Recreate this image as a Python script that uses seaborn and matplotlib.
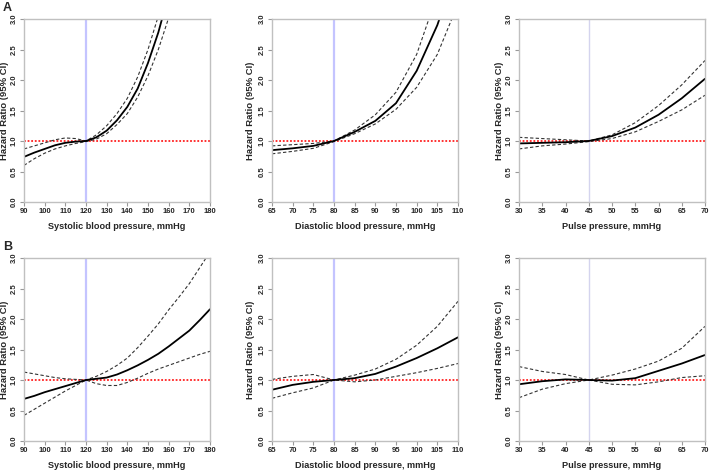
import numpy as np
import pandas as pd
import matplotlib
matplotlib.use("Agg")
import matplotlib.pyplot as plt
import seaborn as sns

# ---- data (hazard ratio with 95% CI) ----
sbp_x = [90, 95, 100, 105, 110, 115, 120, 125, 130, 135, 140, 145, 150, 155, 160, 165, 170, 175, 180]
dbp_x = [65, 70, 75, 80, 85, 90, 95, 100, 105, 110]
pp_x = [30, 35, 40, 45, 50, 55, 60, 65, 70]

# panel A
a_sbp_hr = [0.74, 0.81, 0.87, 0.93, 0.97, 0.99, 1.00, 1.06, 1.17, 1.34, 1.56, 1.86, 2.28, 2.78, 3.40, np.nan, np.nan, np.nan, np.nan]
a_sbp_hi = [0.87, 0.92, 0.97, 1.02, 1.05, 1.04, 1.00, 1.10, 1.25, 1.45, 1.70, 2.05, 2.50, 3.05, np.nan, np.nan, np.nan, np.nan, np.nan]
a_sbp_lo = [0.60, 0.71, 0.80, 0.87, 0.92, 0.96, 0.99, 1.03, 1.12, 1.27, 1.45, 1.72, 2.07, 2.50, 3.02, np.nan, np.nan, np.nan, np.nan]

a_dbp_hr = [0.85, 0.88, 0.92, 1.00, 1.15, 1.33, 1.62, 2.15, 2.90, 3.90]
a_dbp_hi = [0.92, 0.94, 0.96, 1.00, 1.18, 1.43, 1.80, 2.42, 3.40, np.nan]
a_dbp_lo = [0.79, 0.83, 0.88, 0.99, 1.12, 1.28, 1.52, 1.88, 2.42, 3.25]

a_pp_hr = [0.96, 0.97, 0.98, 1.00, 1.08, 1.22, 1.43, 1.70, 2.02]
a_pp_hi = [1.06, 1.04, 1.02, 1.00, 1.10, 1.30, 1.58, 1.92, 2.32]
a_pp_lo = [0.87, 0.92, 0.95, 0.99, 1.04, 1.15, 1.32, 1.51, 1.75]

# panel B
b_sbp_hr = [0.69, 0.74, 0.80, 0.85, 0.90, 0.95, 1.00, 1.02, 1.04, 1.09, 1.16, 1.24, 1.33, 1.43, 1.55, 1.68, 1.81, 1.98, 2.16]
b_sbp_hi = [1.13, 1.10, 1.07, 1.04, 1.02, 1.01, 1.00, 1.06, 1.14, 1.24, 1.36, 1.53, 1.72, 1.92, 2.15, 2.36, 2.58, 2.84, 3.10]
b_sbp_lo = [0.42, 0.52, 0.62, 0.72, 0.82, 0.91, 1.00, 0.94, 0.91, 0.91, 0.96, 1.03, 1.11, 1.18, 1.24, 1.30, 1.36, 1.42, 1.47]

b_dbp_hr = [0.84, 0.92, 0.97, 1.00, 1.03, 1.10, 1.22, 1.36, 1.52, 1.70]
b_dbp_hi = [1.01, 1.06, 1.09, 1.00, 1.08, 1.18, 1.34, 1.57, 1.88, 2.29]
b_dbp_lo = [0.70, 0.79, 0.87, 1.00, 0.97, 1.00, 1.06, 1.12, 1.19, 1.27]

b_pp_hr = [0.93, 0.98, 1.01, 1.00, 0.99, 1.03, 1.15, 1.27, 1.41]
b_pp_hi = [1.22, 1.14, 1.09, 1.00, 1.08, 1.18, 1.31, 1.52, 1.88]
b_pp_lo = [0.71, 0.85, 0.94, 1.00, 0.93, 0.92, 0.97, 1.04, 1.07]

x_labels = ["Systolic blood pressure, mmHg", "Diastolic blood pressure, mmHg", "Pulse pressure, mmHg"]
x_refs = [120, 80, 45]
x_lims = [(90, 180), (65, 110), (30, 70)]
x_ticks = [list(range(90, 181, 10)), list(range(65, 111, 5)), list(range(30, 71, 5))]
y_ticks = [0.0, 0.5, 1.0, 1.5, 2.0, 2.5, 3.0]

sns.set_style("white")
plt.rcParams["font.family"] = ["Liberation Sans", "DejaVu Sans"]

fig = plt.figure(figsize=(7.09, 4.72), dpi=100)

rows = [
    ("A", [(sbp_x, a_sbp_hr, a_sbp_lo, a_sbp_hi), (dbp_x, a_dbp_hr, a_dbp_lo, a_dbp_hi), (pp_x, a_pp_hr, a_pp_lo, a_pp_hi)]),
    ("B", [(sbp_x, b_sbp_hr, b_sbp_lo, b_sbp_hi), (dbp_x, b_dbp_hr, b_dbp_lo, b_dbp_hi), (pp_x, b_pp_hr, b_pp_lo, b_pp_hi)]),
]
lefts = [24, 272, 519]
ylab_right = [9, 255, 504]
tops = [19, 258]
W, H = 709, 472
AW, AH = 186, 183

for r, (letter, panels) in enumerate(rows):
    for c, (x, hr, lo, hi) in enumerate(panels):
        ax = fig.add_axes([lefts[c] / W, 1 - (tops[r] + AH) / H, AW / W, AH / H])
        df = pd.DataFrame({"x": x, "hr": hr, "lo": lo, "hi": hi})

        ref_col = "#c4c4ff" if c < 2 else "#d4d4ee"
        ax.axvline(x_refs[c], color=ref_col, lw=1.6 if c < 2 else 1.0, zorder=1)
        ax.axhline(1.0, color="#ff2020", lw=1.3, ls=(0, (1, 1)), zorder=2)

        sns.lineplot(data=df, x="x", y="lo", ax=ax, color="#333333", lw=0.8, ls=(0, (3, 2)))
        sns.lineplot(data=df, x="x", y="hi", ax=ax, color="#333333", lw=0.8, ls=(0, (3, 2)))
        sns.lineplot(data=df, x="x", y="hr", ax=ax, color="black", lw=1.3)

        ax.set_xlim(*x_lims[c])
        ax.set_ylim(0, 3)
        ax.set_xticks(x_ticks[c])
        ax.set_yticks(y_ticks)
        ax.set_yticklabels([f"{v:.1f}" for v in y_ticks], rotation=90, va="center")
        ax.tick_params(axis="both", length=3, width=0.8, color="#999999", labelsize=5.5,
                       pad=1.5, direction="out", bottom=True, left=True)
        for lab in ax.get_xticklabels() + ax.get_yticklabels():
            lab.set_fontweight("bold")
        for s in ax.spines.values():
            s.set_color("#c0c0c0")
            s.set_linewidth(1.0)
        ax.set_xlabel(x_labels[c], fontsize=6.6, fontweight="bold")
        ax.xaxis.set_label_coords(0.5, -20 / AH)
        ax.set_ylabel("Hazard Ratio (95% CI)", fontsize=6.8, fontweight="bold")
        ax.yaxis.set_label_coords((ylab_right[c] - lefts[c]) / AW, 0.5)

    fig.text(3 / W, 1 - (2 if r == 0 else 241) / H, letter, fontsize=9, fontweight="bold",
             va="top", ha="left")

fig.savefig("out.png", dpi=100)
